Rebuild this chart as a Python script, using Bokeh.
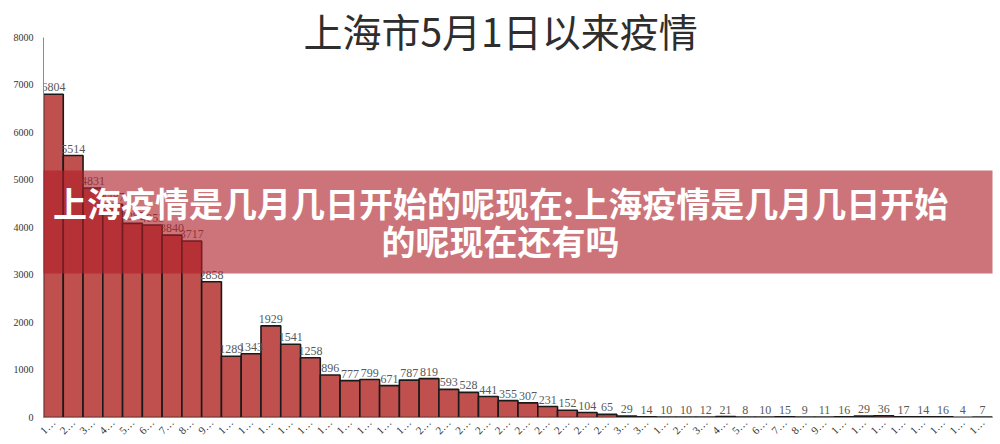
import math
from bokeh.plotting import figure
from bokeh.models import Range1d, FixedTicker, BoxAnnotation, Label, ColumnDataSource
from bokeh.core.properties import value
from bokeh.embed import file_html
from bokeh.resources import INLINE

# ---- data ----
may_values = [6804, 5514, 4831, 4487, 4087, 4053, 3840, 3717, 2858, 1289,
              1343, 1929, 1541, 1258, 896, 777, 799, 671, 787, 819,
              593, 528, 441, 355, 307, 231, 152, 104, 65, 29, 14]
june_values = [10, 10, 12, 21, 8, 10, 15, 9, 11, 16, 29, 36, 17, 14, 16, 4, 7]
values = may_values + june_values
may_days = list(range(1, 32))
june_days = list(range(1, 18))
days = may_days + june_days
tick_labels = [str(d)[0] + "…" for d in days]
y_ticks = [0, 1000, 2000, 3000, 4000, 5000, 6000, 7000, 8000]
title_text = "上海市5月1日以来疫情"
banner_line1 = "上海疫情是几月几日开始的呢现在:上海疫情是几月几日开始"
banner_line2 = "的呢现在还有吗"

n = len(values)
xs = list(range(n))

p = figure(width=1000, height=444, output_backend="svg", toolbar_location=None,
           x_range=Range1d(-0.5, n - 0.5), y_range=Range1d(0, 8610),
           min_border_left=43, min_border_right=8, min_border_top=8,
           min_border_bottom=27, title=None)
p.outline_line_color = None
p.xgrid.visible = False
p.ygrid.visible = False
p.background_fill_color = "white"
p.border_fill_color = "white"

src = ColumnDataSource(dict(x=xs, top=values, lab=[str(v) for v in values]))
p.vbar(x="x", top="top", width=1.0, bottom=0, source=src,
       fill_color="#C0504D", line_color="#1a1a1a", line_width=1.6)

p.text(x="x", y="top", text="lab", source=src, text_align="center",
       text_baseline="bottom", y_offset=-3,
       text_font=value("Liberation Serif"), text_font_size="12px",
       text_color="#595959")

# axes
ya = p.yaxis[0]
ya.ticker = FixedTicker(ticks=y_ticks)
ya.bounds = (0, 8000)
ya.axis_line_color = "#8c8c8c"
ya.major_tick_line_color = None
ya.minor_tick_line_color = None
ya.major_tick_out = 0
ya.major_tick_in = 0
ya.axis_label_standoff = 0
ya.major_label_text_font = "Liberation Serif"
ya.major_label_text_font_size = "10px"
ya.major_label_text_color = "#333333"
ya.major_label_standoff = 10

xa = p.xaxis[0]
xa.ticker = FixedTicker(ticks=xs)
xa.major_label_overrides = {i: tick_labels[i] for i in xs}
xa.major_label_orientation = math.pi / 4
xa.axis_line_color = "#8c8c8c"
xa.major_tick_line_color = None
xa.minor_tick_line_color = None
xa.major_tick_out = 0
xa.major_tick_in = 0
xa.axis_label_standoff = 0
xa.major_label_text_font = "Liberation Serif"
xa.major_label_text_font_size = "11px"
xa.major_label_text_color = "#333333"
xa.major_label_standoff = 3

# title
p.add_layout(Label(x=22.62, y=8158, text=title_text, text_align="center",
                   text_baseline="middle", text_font="Noto Sans CJK SC",
                   text_font_size="39px", text_color="#2e2e2e"))

# overlay banner
p.add_layout(BoxAnnotation(left=-2.68, right=47.91, bottom=3032, top=5200,
                           fill_color=(175, 30, 40), fill_alpha=0.62,
                           line_color=None))
p.add_layout(Label(x=22.62, y=4530, text=banner_line1, text_align="center",
                   text_baseline="middle", text_font="Noto Sans CJK SC",
                   text_font_style="bold", text_font_size="34px",
                   text_color="white"))
p.add_layout(Label(x=22.62, y=3726, text=banner_line2, text_align="center",
                   text_baseline="middle", text_font="Noto Sans CJK SC",
                   text_font_style="bold", text_font_size="34px",
                   text_color="white"))

open("out.html", "w").write(file_html(p, INLINE))
